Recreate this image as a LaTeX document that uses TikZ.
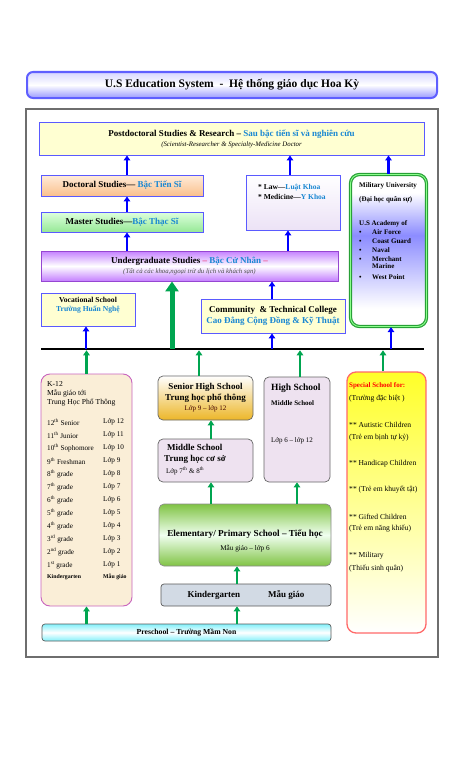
\documentclass[tikz,border=0pt]{standalone}
\usepackage{fontspec}
\setmainfont{Liberation Serif}
\usetikzlibrary{arrows.meta,positioning}
\definecolor{vnblue}{RGB}{25,135,210}
\definecolor{boxblue}{RGB}{90,90,255}
\definecolor{arrowblue}{RGB}{0,0,255}
\definecolor{arrowgreen}{RGB}{0,165,80}
\definecolor{paleyellow}{RGB}{255,255,210}
\definecolor{peachtop}{RGB}{255,236,218}
\definecolor{peachbot}{RGB}{250,192,140}
\definecolor{mintop}{RGB}{222,255,222}
\definecolor{minbot}{RGB}{150,232,150}
\definecolor{lawlav}{RGB}{236,226,246}
\definecolor{ugviolet}{RGB}{196,128,255}
\definecolor{ugborder}{RGB}{150,70,210}
\definecolor{ugpink}{RGB}{240,70,130}
\definecolor{milgreen}{RGB}{40,160,55}
\definecolor{milblue}{RGB}{140,140,255}
\definecolor{k12pink}{RGB}{200,100,190}
\definecolor{k12cream}{RGB}{250,238,215}
\definecolor{seniorgold}{RGB}{236,182,40}
\definecolor{schoollav}{RGB}{238,226,240}
\definecolor{elemgreen}{RGB}{128,195,68}
\definecolor{kggray}{RGB}{210,218,228}
\definecolor{precyan}{RGB}{130,240,250}
\definecolor{specialred}{RGB}{255,105,105}
\definecolor{specialyellow}{RGB}{255,255,40}
\definecolor{titleblue}{RGB}{95,95,255}
\definecolor{framegray}{RGB}{110,110,110}
\pgfdeclareverticalshading{milshade}{100bp}{color(0bp)=(white); color(31bp)=(white); color(55bp)=(milblue); color(69bp)=(white); color(100bp)=(white)}
\newcommand{\viet}[1]{\textcolor{vnblue}{#1}}
\newcommand{\fsz}[2]{\fontsize{#1}{#2}\selectfont}
\tikzset
{
    studybox/.style = {draw=boxblue, line width=0.9pt, align=center, inner sep=1pt},
    schoolbox/.style = {draw=black!60, line width=0.7pt, rounded corners=5pt, align=center, inner sep=1pt},
    plaintext/.style = {inner sep=0pt, anchor=west},
    bluearrow/.style = {draw=arrowblue, line width=2.4pt, -{Triangle[length=5pt,width=6.5pt]}},
    greenarrow/.style = {draw=arrowgreen, line width=2.4pt, -{Triangle[length=5pt,width=6.5pt]}},
    bigarrow/.style = {draw=arrowgreen, line width=5pt, -{Triangle[length=10pt,width=13pt]}}
}
\begin{document}
\begin{tikzpicture}[x=1pt,y=-1pt]
	\useasboundingbox (0,0) rectangle (466,768);
	% title and frame
	\node[draw=titleblue, line width=2pt, rounded corners=6pt, top color=blue!16, bottom color=blue!40, middle color=white, minimum width=410pt, minimum height=26pt, font=\fsz{11.5}{13}\bfseries] (title) at (232,85) {U.S Education System ~-~ Hệ thống giáo dục Hoa Kỳ};
	\draw[framegray, line width=2pt] (26,109) rectangle (438,657);
	% higher education
	\node[studybox, fill=paleyellow, minimum width=385pt, minimum height=33pt, font=\fsz{9}{10}\bfseries] (postdoc) at (231.5,138.5) {Postdoctoral Studies \& Research -- \viet{Sau bậc tiến sĩ và nghiên cứu}\\ \fsz{6.8}{8}\mdseries\itshape (Scientist-Researcher \& Specialty-Medicine Doctor};
	\node[studybox, top color=peachtop, bottom color=peachbot, minimum width=162pt, minimum height=21pt, font=\fsz{9}{10}\bfseries] (doc) at (122,185.5) {Doctoral Studies--- \viet{Bậc Tiến Sĩ}};
	\node[studybox, top color=mintop, bottom color=minbot, minimum width=162pt, minimum height=20pt, font=\fsz{9}{10}\bfseries] (master) at (122,222) {Master Studies---\viet{Bậc Thạc Sĩ}};
	\node[studybox, top color=white, bottom color=lawlav, minimum width=94pt, minimum height=55pt] (law) at (293,202.5) {};
	\node[plaintext, anchor=north west, align=left, font=\fsz{7.5}{10}\bfseries] (lawtext) at (258,184) {* Law---\viet{Luật Khoa}\\ * Medicine---\viet{Y Khoa}};
	\node[studybox, draw=ugborder, top color=ugviolet, bottom color=ugviolet, middle color=white, minimum width=297pt, minimum height=30pt, font=\fsz{9}{10.5}\bfseries] (ug) at (189.5,266) {Undergraduate Studies \textcolor{ugpink}{--} \viet{Bậc Cử Nhân} \textcolor{ugpink}{--}\\ \fsz{6.8}{8}\mdseries\itshape\color{black!70} (Tất cả các khoa,ngoại trừ du lịch và khách sạn)};
	\node[draw=milgreen, line width=1.2pt, double=green!45!white, double distance=0.9pt, rounded corners=9pt, shading=milshade, minimum width=76pt, minimum height=152pt] (mil) at (388.5,250.5) {};
	\node[plaintext, anchor=north west, align=left, font=\fsz{7}{9}\bfseries] (miltext) at (359,182) {Military University\\[5pt] (Đại học quân sự)\\[15pt] U.S Academy of\\ \makebox[13pt][l]{\textbullet}Air Force\\ \makebox[13pt][l]{\textbullet}Coast Guard\\ \makebox[13pt][l]{\textbullet}Naval\\ \makebox[13pt][l]{\textbullet}Merchant\\[-2pt] \makebox[13pt][l]{}Marine\\[2pt] \makebox[13pt][l]{\textbullet}West Point};
	\node[studybox, fill=paleyellow, minimum width=94pt, minimum height=33pt] (voc) at (88,309.5) {};
	\node[align=center, inner sep=0pt, font=\fsz{7.6}{9.5}\bfseries] (voctext) at (88,305) {Vocational School\\ \viet{Trường Huấn Nghệ}};
	\node[studybox, fill=paleyellow, minimum width=144pt, minimum height=34pt, font=\fsz{9}{10.5}\bfseries] (comm) at (273,316) {Community ~\& Technical College\\ \viet{Cao Đẳng Cộng Đồng \& Kỹ Thuật}};
	% divider
	\coordinate (barL) at (41,349);
	\coordinate (barR) at (424,349);
	\draw[line width=2.6pt] (barL) -- (barR);
	% K-12
	\node[draw=k12pink, line width=0.9pt, rounded corners=9pt, fill=k12cream, minimum width=91pt, minimum height=232pt] (k12) at (86.5,490) {};
	\node[plaintext, anchor=north west, align=left, font=\fsz{7.6}{9}] (k12text) at (47,381) {K-12\\ Mẫu giáo tới\\ Trung Học Phổ Thông};
	\foreach \grade/\lop [count=\n] in {12\textsuperscript{th} Senior/12, 11\textsuperscript{th} Junior/11, 10\textsuperscript{th} Sophomore/10, 9\textsuperscript{th} Freshman/9, 8\textsuperscript{th} grade/8, 7\textsuperscript{th} grade/7, 6\textsuperscript{th} grade/6, 5\textsuperscript{th} grade/5, 4\textsuperscript{th} grade/4, 3\textsuperscript{rd} grade/3, 2\textsuperscript{nd} grade/2, 1\textsuperscript{st} grade/1}
	{
		\node[plaintext, font=\fsz{7.2}{8}] (grade\n) at (47,{422+13*(\n-1)}) {\grade};
		\node[plaintext, font=\fsz{7.2}{8}] (lop\n) at (103,{422+13*(\n-1)}) {Lớp \lop};
	}
	\node[plaintext, font=\fsz{5.8}{7}\bfseries] (gradek) at (47,577) {Kindergarten};
	\node[plaintext, font=\fsz{5.8}{7}\bfseries] (lopk) at (103,577) {Mẫu giáo};
	% schools
	\node[schoolbox, top color=white, bottom color=seniorgold, minimum width=95pt, minimum height=44pt, font=\fsz{9}{10.5}\bfseries] (senior) at (205.5,398) {Senior High School\\ Trung học phổ thông\\ \fsz{7}{9}\mdseries\color{black!75!red} Lớp 9 -- lớp 12};
	\node[schoolbox, fill=schoollav, minimum width=95pt, minimum height=43pt] (middle) at (205.5,460.5) {};
	\node[plaintext, anchor=north west, align=left, font=\fsz{9}{11.5}\bfseries] (middletext) at (164,444) {\hspace*{3pt}Middle School\\ Trung học cơ sở\\ \fsz{7}{9}\mdseries\hspace*{2pt}Lớp 7\textsuperscript{th} \& 8\textsuperscript{th}};
	\node[schoolbox, fill=schoollav, minimum width=66pt, minimum height=105pt] (high) at (297,429.5) {};
	\node[plaintext, anchor=north west, align=left, font=\fsz{9.5}{15}\bfseries] (hightext) at (271,384) {High School\\ \fsz{7}{9}Middle School\\[22pt] \fsz{7}{9}\mdseries Lớp 6 -- lớp 12};
	\node[schoolbox, draw=black!45, top color=elemgreen, bottom color=elemgreen, middle color=green!6!white, minimum width=172pt, minimum height=62pt] (elem) at (245,535) {};
	\node[align=center, inner sep=0pt, font=\fsz{9.2}{14}\bfseries] (elemtext) at (245,540.5) {Elementary/ Primary School -- Tiểu học\\ \fsz{7.2}{8}\mdseries Mẫu giáo -- lớp 6};
	\node[schoolbox, draw=black!65, rounded corners=3pt, fill=kggray, minimum width=170pt, minimum height=22pt, font=\fsz{9}{10}\bfseries] (kg) at (246,595) {Kindergarten\hspace{28pt}Mẫu giáo};
	\node[schoolbox, draw=black!65, rounded corners=3pt, top color=precyan, bottom color=precyan, middle color=white, minimum width=289pt, minimum height=17pt, font=\fsz{7.7}{9}\bfseries] (pre) at (186.5,632.5) {Preschool -- Trường Mầm Non};
	% special school
	\node[draw=specialred, line width=1.3pt, rounded corners=9pt, top color=specialyellow, bottom color=white, minimum width=79pt, minimum height=261pt] (special) at (386.5,502.5) {};
	\node[plaintext, font=\fsz{7}{8}\bfseries\color{red}] (specialhead) at (349,386) {Special School for:};
	\foreach \ypos/\txt [count=\n] in {399/(Trường đặc biệt ), 425/** Autistic Children, 438/(Trẻ em bịnh tự kỷ), 464/** Handicap Children, 490/** (Trẻ em khuyết tật), 517/** Gifted Children, 529/(Trẻ em năng khiếu), 556/** Military, 569/(Thiếu sinh quân)}
	{
		\node[plaintext, font=\fsz{7.6}{8}] (special\n) at (349,\ypos) {\txt};
	}
	% connectors, higher education
	\draw[bluearrow] ([xshift=5pt]doc.north) -- ([xshift=5pt]doc.north |- postdoc.south);
	\draw[bluearrow] ([xshift=-3pt]law.north) -- ([xshift=-3pt]law.north |- postdoc.south);
	\draw[bluearrow] (mil.north) -- (mil.north |- postdoc.south);
	\draw[bluearrow] ([xshift=5pt]master.north) -- ([xshift=5pt]doc.south);
	\draw[bluearrow] ([xshift=5pt]master.south |- ug.north) -- ([xshift=5pt]master.south);
	\draw[bluearrow] ([xshift=-5pt]law.south |- ug.north) -- ([xshift=-5pt]law.south);
	\draw[bluearrow] ([xshift=-1pt]comm.north) -- ([xshift=-1pt]comm.north |- ug.south);
	\draw[bluearrow] ([xshift=-2pt]voc.south |- barL) -- ([xshift=-2pt]voc.south);
	\draw[bluearrow] ([xshift=-1pt]comm.south |- barL) -- ([xshift=-1pt]comm.south);
	\draw[bluearrow] ([xshift=2.5pt]mil.south |- barL) -- ([xshift=2.5pt]mil.south);
	\draw[bigarrow] ([xshift=-17.5pt]ug.south |- barL) -- ([xshift=-17.5pt]ug.south);
	% connectors, schools
	\draw[greenarrow] (k12.north) -- ([yshift=-1.3pt]k12.north |- barL);
	\draw[greenarrow] ([xshift=-6.5pt]senior.north) -- ([xshift=-6.5pt,yshift=-1.3pt]senior.north |- barL);
	\draw[greenarrow] ([xshift=3pt]high.north) -- ([xshift=3pt,yshift=-1.3pt]high.north |- barL);
	\draw[greenarrow] ([xshift=-3.5pt]special.north) -- ([xshift=-3.5pt,yshift=-1.3pt]special.north |- barL);
	\draw[greenarrow] ([xshift=5.5pt]middle.north) -- ([xshift=5.5pt]senior.south);
	\draw[greenarrow] ([xshift=-34pt]elem.north) -- ([xshift=-34pt]elem.north |- middle.south);
	\draw[greenarrow] ([xshift=52pt]elem.north) -- ([xshift=52pt]elem.north |- high.south);
	\draw[greenarrow] ([xshift=-9pt]kg.north) -- ([xshift=-9pt]kg.north |- elem.south);
	\draw[greenarrow] ([xshift=-9pt]kg.south |- pre.north) -- ([xshift=-9pt]kg.south);
	\draw[greenarrow] (k12.south |- pre.north) -- (k12.south);
\end{tikzpicture}
\end{document}
